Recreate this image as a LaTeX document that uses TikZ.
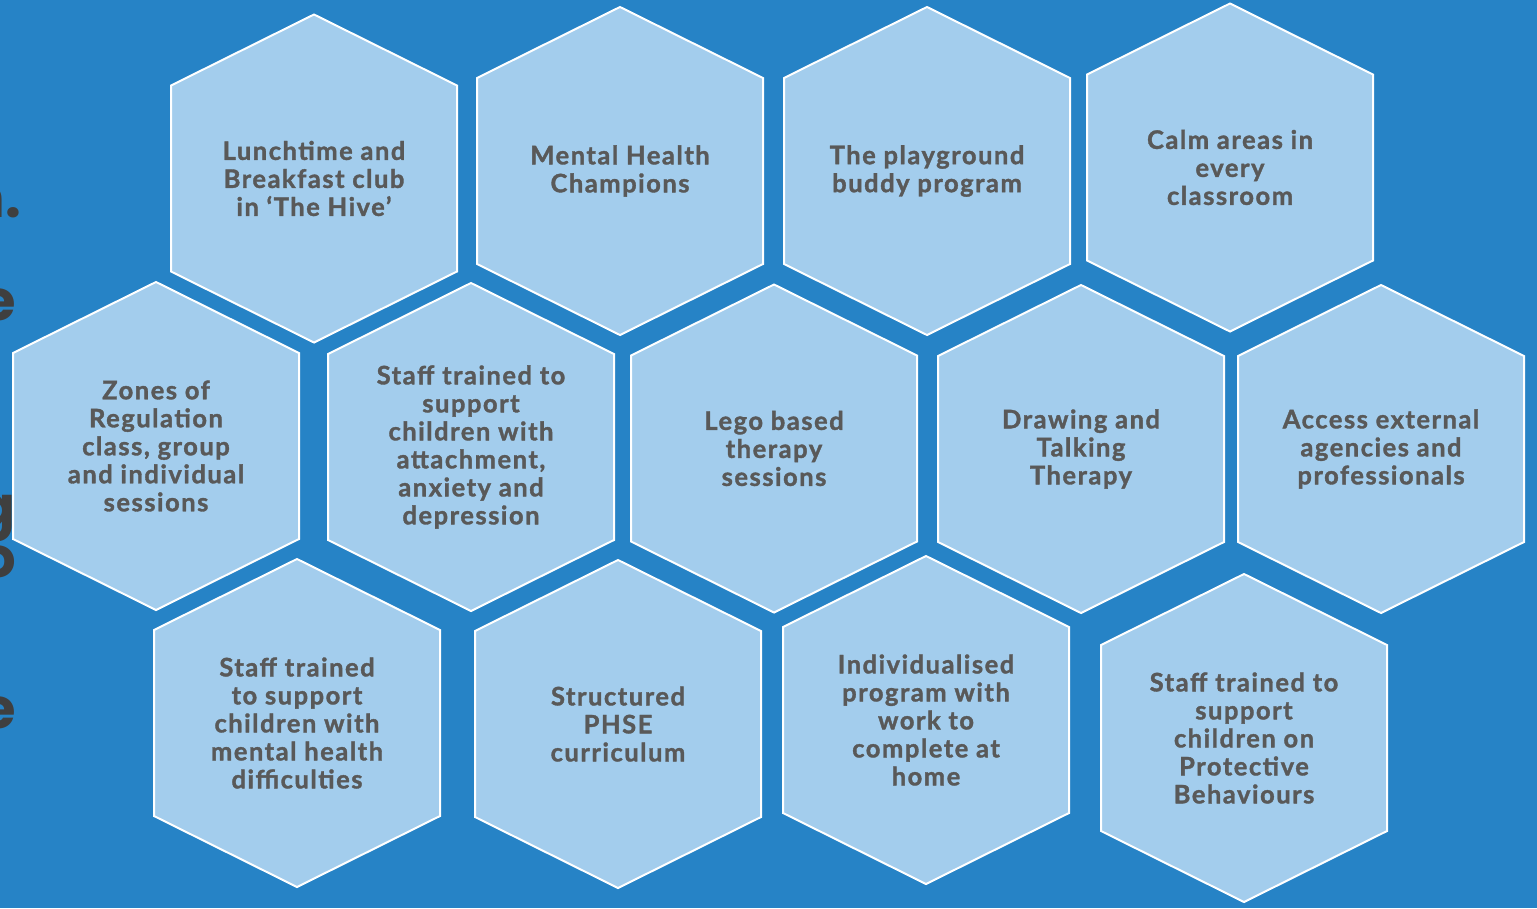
\documentclass[tikz,border=0pt]{standalone}
\usepackage{fontspec}
\setmainfont{Lato}[BoldFeatures={FakeBold=1.4,LetterSpace=6}]
\newfontfamily\fragfont{Poppins}
\definecolor{bgblue}{HTML}{2683C6}
\definecolor{hexfill}{HTML}{A3CDED}
\definecolor{txtgray}{HTML}{595959}
\definecolor{fraggray}{HTML}{3F3F3F}
\newcommand\honeycell[4]{%
  \draw[hexcell] (#2,#3-164) -- (#2+143,#3-93) -- (#2+143,#3+93) -- (#2,#3+164) -- (#2-143,#3+93) -- (#2-143,#3-93) -- cycle;
  \node[hexlabel] (#1) at (#2,#3) {#4};%
}
\begin{document}
\begin{tikzpicture}[x=1pt,y=-1pt,
  hexcell/.style={fill=hexfill,draw=white,line width=2pt,line join=miter},
  hexlabel/.style={align=center,text=txtgray,font=\fontsize{25.5}{28}\selectfont\bfseries,inner sep=0pt},
  fragment/.style={anchor=base east,text=fraggray,font=\fragfont\fontsize{56}{60}\selectfont\bfseries,inner sep=0pt}]
\fill[bgblue] (0,0) rectangle (1537,908);
\useasboundingbox (0,0) rectangle (1537,908);
\clip (0,0) rectangle (1537,908);
% clipped text fragments at the left edge
\node[fragment] (f1) at (21,217) {n.};
\node[fragment] (f2) at (16,320) {e};
\node[fragment] (f3) at (16,526) {g};
\node[fragment] (f4) at (16,577) {o};
\node[fragment] (f5) at (16,728) {e};
% row 1
\honeycell{h1}{314}{178.5}{Lunchtime and\\Breakfast club\\in ‘The Hive’}
\honeycell{h2}{620}{171}{Mental Health\\Champions}
\honeycell{h3}{927}{171}{The playground\\buddy program}
\honeycell{h4}{1230}{167.5}{Calm areas in\\every\\classroom}
% row 2
\honeycell{h5}{156}{446}{Zones of\\Regulation\\class, group\\and individual\\sessions}
\honeycell{h6}{471}{447}{Staff trained to\\support\\children with\\attachment,\\anxiety and\\depression}
\honeycell{h7}{774}{448.5}{Lego based\\therapy\\sessions}
\honeycell{h8}{1081}{449}{Drawing and\\Talking\\Therapy}
\honeycell{h9}{1381}{449}{Access external\\agencies and\\professionals}
% row 3
\honeycell{h10}{297}{723}{Staff trained\\to support\\children with\\mental health\\difficulties}
\honeycell{h11}{618}{724}{Structured\\PHSE\\curriculum}
\honeycell{h12}{926}{720}{Individualised\\program with\\work to\\complete at\\home}
\honeycell{h13}{1244}{738}{Staff trained to\\support\\children on\\Protective\\Behaviours}
\end{tikzpicture}
\end{document}
